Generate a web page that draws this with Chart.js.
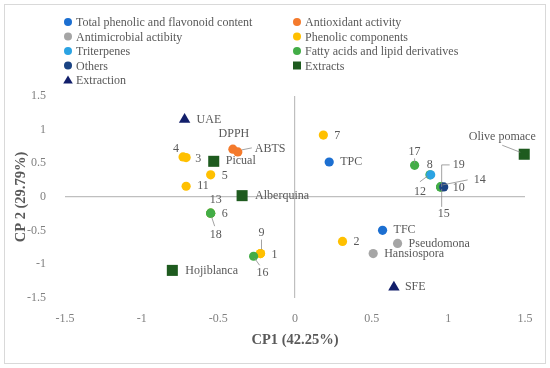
<!DOCTYPE html>
<html>
<head>
<meta charset="utf-8">
<script src="https://cdn.jsdelivr.net/npm/chart.js@4"></script>
<style>
  html, body { margin: 0; padding: 0; background: #fff; }
  #wrap { width: 550px; height: 368px; position: relative; }
</style>
</head>
<body>
<div id="wrap"><canvas id="pca-chart"></canvas></div>
<script>
// values (CP1 = x, CP2 = y)
const tpcLabels = ["TPC", "TFC"];
const tpcX = [0.223, 0.571];
const tpcY = [0.52, -0.495];

const antioxLabels = ["DPPH", "ABTS"];
const antioxX = [-0.405, -0.373];
const antioxY = [0.71, 0.67];

const microLabels = ["Pseudomona", "Hansiospora"];
const microX = [0.669, 0.51];
const microY = [-0.69, -0.84];

const phenolLabels = ["1", "2", "3", "4", "5", "6", "7", "9", "11"];
const phenolX = [-0.225, 0.31, -0.71, -0.73, -0.55, -0.55, 0.185, -0.225, -0.71];
const phenolY = [-0.84, -0.66, 0.585, 0.595, 0.33, -0.24, 0.92, -0.84, 0.16];

const triterpLabels = ["8"];
const triterpX = [0.885];
const triterpY = [0.33];

const fattyLabels = ["12", "13", "14", "15", "16", "17", "18", "19"];
const fattyX = [0.88, -0.55, 0.95, 0.95, -0.27, 0.78, -0.55, 0.95];
const fattyY = [0.33, -0.24, 0.15, 0.15, -0.88, 0.47, -0.24, 0.15];

const otherLabels = ["10"];
const otherX = [0.97];
const otherY = [0.15];

const extractLabels = ["Olive pomace", "Picual", "Alberquina", "Hojiblanca"];
const extractX = [1.495, -0.53, -0.345, -0.80];
const extractY = [0.635, 0.53, 0.02, -1.09];

const extractionLabels = ["UAE", "SFE"];
const extractionX = [-0.72, 0.645];
const extractionY = [1.15, -1.34];

const axisTicks = [-1.5, -1, -0.5, 0, 0.5, 1, 1.5];

function toPoints(xs, ys) {
    return xs.map((x, i) => ({ x, y: ys[i] }));
}

// where each point's text sits, relative to the point (px)
const labelPlace = {
    "1": { dx: 11, dy: 1 },
    "9": { dx: 1, dy: -21, align: "center", leader: [[1, -14], [1, -4]] },
    "2": { dx: 11, dy: 0 },
    "3": { dx: 9, dy: 1 },
    "4": { dx: -7, dy: -8, align: "center" },
    "5": { dx: 11, dy: 1 },
    "6": { dx: 11, dy: 1 },
    "7": { dx: 11, dy: 1 },
    "11": { dx: 11, dy: 0 },
    "8": { dx: -1, dy: -10, align: "center" },
    "10": { dx: 9, dy: 1 },
    "12": { dx: -10, dy: 17, align: "center", leader: [[-10, 7], [-2, 1]] },
    "13": { dx: 5, dy: -13, align: "center" },
    "14": { dx: 33, dy: -7, leader: [[2, -2], [27, -7]] },
    "15": { dx: 3, dy: 27, align: "center", leader: [[1, 20], [1, 2]] },
    "16": { dx: 9, dy: 17, align: "center", leader: [[1, 2], [6, 9]] },
    "17": { dx: 0, dy: -14, align: "center", leader: [[0, -7], [0, -2]] },
    "18": { dx: 5, dy: 22, align: "center", leader: [[1, 4], [4, 13]] },
    "19": { dx: 12, dy: -22, leader: [[9, -22], [1, -22], [1, 0]] },
    "TPC": { dx: 11, dy: 0 },
    "TFC": { dx: 11, dy: 0 },
    "DPPH": { dx: 1, dy: -15, align: "center" },
    "ABTS": { dx: 17, dy: -3, leader: [[4, -2], [14, -4]] },
    "Pseudomona": { dx: 11, dy: 0 },
    "Hansiospora": { dx: 11, dy: 0 },
    "Olive pomace": { dx: -22, dy: -17, align: "center", leader: [[-22, -9], [-4, -2]] },
    "Picual": { dx: 12, dy: 0 },
    "Alberquina": { dx: 13, dy: 0 },
    "Hojiblanca": { dx: 13, dy: 0 },
    "UAE": { dx: 12, dy: 0 },
    "SFE": { dx: 11, dy: 0 }
};

const seriesList = [
    { label: "Total phenolic and flavonoid content", color: "#1c6fd1", shape: "circle", names: tpcLabels, xs: tpcX, ys: tpcY, order: 9 },
    { label: "Antioxidant activity", color: "#f47a2c", shape: "circle", names: antioxLabels, xs: antioxX, ys: antioxY, order: 8 },
    { label: "Antimicrobial actibity", color: "#a5a5a5", shape: "circle", names: microLabels, xs: microX, ys: microY, order: 7 },
    { label: "Phenolic components", color: "#ffc000", shape: "circle", names: phenolLabels, xs: phenolX, ys: phenolY, order: 6 },
    { label: "Triterpenes", color: "#2ba3e3", shape: "circle", names: triterpLabels, xs: triterpX, ys: triterpY, order: 3 },
    { label: "Fatty acids and lipid derivatives", color: "#43ad47", shape: "circle", names: fattyLabels, xs: fattyX, ys: fattyY, order: 4 },
    { label: "Others", color: "#1a4383", shape: "circle", names: otherLabels, xs: otherX, ys: otherY, order: 2 },
    { label: "Extracts", color: "#1e5b1f", shape: "rect", names: extractLabels, xs: extractX, ys: extractY, order: 1 },
    { label: "Extraction", color: "#121f6b", shape: "triangle", names: extractionLabels, xs: extractionX, ys: extractionY, order: 0 }
];

const pointSize = { circle: 4.6, rect: 7.8, triangle: 6.6 };

const datasets = seriesList.map(s => ({
    label: s.label,
    data: toPoints(s.xs, s.ys),
    names: s.names,
    order: s.order,
    clip: false,
    pointStyle: s.shape,
    pointRadius: pointSize[s.shape],
    pointHoverRadius: pointSize[s.shape],
    backgroundColor: s.color,
    borderColor: s.color,
    borderWidth: 0
}));

const serif = "'Liberation Serif', 'DejaVu Serif', serif";

const framePlugin = {
    id: "frame",
    beforeDraw(chart) {
        const c = chart.ctx;
        c.save();
        c.fillStyle = "#fff";
        c.fillRect(0, 0, chart.width, chart.height);
        c.strokeStyle = "#d9d9d9";
        c.lineWidth = 1;
        c.strokeRect(4.5, 4.5, chart.width - 9, chart.height - 9);
        c.restore();
    }
};

const pointLabelPlugin = {
    id: "pointLabels",
    afterDatasetsDraw(chart) {
        const c = chart.ctx;
        c.save();
        c.font = "12px " + serif;
        c.fillStyle = "#595959";
        c.strokeStyle = "#8c8c8c";
        c.lineWidth = 0.8;
        c.textBaseline = "middle";
        chart.data.datasets.forEach((ds, di) => {
            const meta = chart.getDatasetMeta(di);
            meta.data.forEach((pt, i) => {
                const name = ds.names[i];
                const p = labelPlace[name] || { dx: 10, dy: 0 };
                if (p.leader) {
                    c.beginPath();
                    p.leader.forEach(([lx, ly], k) => {
                        if (k === 0) c.moveTo(pt.x + lx, pt.y + ly);
                        else c.lineTo(pt.x + lx, pt.y + ly);
                    });
                    c.stroke();
                }
                c.textAlign = p.align || "left";
                c.fillText(name, pt.x + p.dx, pt.y + p.dy);
            });
        });
        c.restore();
    }
};

const legendPlugin = {
    id: "sideLegend",
    afterDraw(chart) {
        const c = chart.ctx;
        const cols = [68, 297];
        const top = 22, step = 14.5;
        c.save();
        c.font = "12px " + serif;
        c.textBaseline = "middle";
        c.textAlign = "left";
        chart.data.datasets.forEach((ds, i) => {
            const x = cols[i % 2];
            const y = top + Math.floor(i / 2) * step;
            c.fillStyle = ds.backgroundColor;
            c.beginPath();
            if (ds.pointStyle === "rect") {
                c.rect(x - 4, y - 4, 8, 8);
            } else if (ds.pointStyle === "triangle") {
                c.moveTo(x, y - 4.5);
                c.lineTo(x + 4.8, y + 3.5);
                c.lineTo(x - 4.8, y + 3.5);
                c.closePath();
            } else {
                c.arc(x, y, 4, 0, Math.PI * 2);
            }
            c.fill();
            c.fillStyle = "#595959";
            c.fillText(ds.label, x + 8, y + 1);
        });
        c.restore();
    }
};

function zeroLine(ctx) {
    return ctx.tick && ctx.tick.value === 0 ? "#bfbfbf" : "rgba(0,0,0,0)";
}

const tickFont = { family: serif, size: 12 };

const ctx = document.getElementById("pca-chart").getContext("2d");
new Chart(ctx, {
    type: "scatter",
    data: { datasets },
    plugins: [framePlugin, pointLabelPlugin, legendPlugin],
    options: {
        responsive: true,
        maintainAspectRatio: false,
        animation: false,
        events: [],
        layout: { padding: { top: 96, right: 25, bottom: 18, left: 4 } },
        plugins: { legend: { display: false }, tooltip: { enabled: false } },
        scales: {
            x: {
                type: "linear",
                min: axisTicks[0],
                max: axisTicks[axisTicks.length - 1],
                afterBuildTicks: s => { s.ticks = axisTicks.map(v => ({ value: v })); },
                afterFit: s => { s.height = 52; },
                grid: { color: zeroLine, lineWidth: 1.2, drawTicks: false },
                border: { display: false },
                ticks: { padding: 14, color: "#808080", font: tickFont, callback: v => String(v) },
                title: {
                    display: true,
                    text: "CP1 (42.25%)",
                    color: "#595959",
                    padding: { top: 0, bottom: 1 },
                    font: { family: serif, size: 14.5, weight: "bold" }
                }
            },
            y: {
                type: "linear",
                min: axisTicks[0],
                max: axisTicks[axisTicks.length - 1],
                afterBuildTicks: s => { s.ticks = axisTicks.map(v => ({ value: v })); },
                afterFit: s => { s.width = 61; },
                grid: { color: zeroLine, lineWidth: 1.2, drawTicks: false },
                border: { display: false },
                ticks: { padding: 19, color: "#808080", font: tickFont, callback: v => String(v) },
                title: {
                    display: true,
                    text: "CP 2 (29.79%)",
                    color: "#595959",
                    padding: { top: 9, bottom: 0 },
                    font: { family: serif, size: 14.5, weight: "bold" }
                }
            }
        }
    }
});
</script>
</body>
</html>
